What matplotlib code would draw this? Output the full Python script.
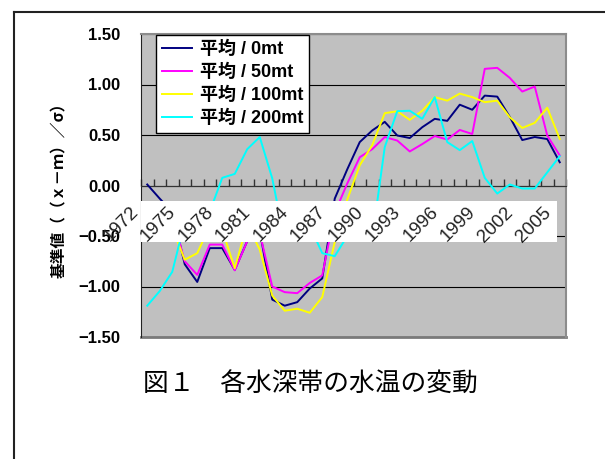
import numpy as np
import matplotlib
matplotlib.use("Agg")
import matplotlib.pyplot as plt
from matplotlib.patches import Rectangle
from matplotlib.lines import Line2D
from matplotlib.font_manager import FontProperties

plt.rcParams['font.family'] = ['Liberation Sans', 'Noto Sans CJK JP']

# standardised water temperature, (x-m)/sigma, by depth
years = list(range(1972, 2006))
avg_0mt = [0.01, -0.13, -0.26, -0.78, -0.955, -0.62, -0.62, -0.835, -0.55, -0.45,
           -1.13, -1.19, -1.155, -1.02, -0.92, -0.13, 0.16, 0.43, 0.545, 0.63,
           0.495, 0.47, 0.577, 0.66, 0.64, 0.80, 0.75, 0.89, 0.88, 0.68,
           0.45, 0.48, 0.46, 0.23]
avg_50mt = [-0.30, -0.35, -0.30, -0.75, -0.885, -0.585, -0.585, -0.84, -0.55, -0.47,
            -1.0, -1.056, -1.066, -0.965, -0.89, -0.27, 0.02, 0.28, 0.36, 0.48,
            0.445, 0.337, 0.41, 0.49, 0.455, 0.55, 0.51, 1.155, 1.165, 1.066,
            0.93, 0.98, 0.495, 0.297]
avg_100mt = [-0.35, -0.40, -0.42, -0.735, -0.67, -0.40, -0.44, -0.82, -0.38, -0.635,
             -1.09, -1.24, -1.22, -1.26, -1.105, -0.56, -0.14, 0.20, 0.40, 0.716,
             0.735, 0.65, 0.74, 0.875, 0.84, 0.91, 0.875, 0.825, 0.84, 0.676,
             0.57, 0.62, 0.77, 0.46]
avg_200mt = [-1.19, -1.045, -0.855, -0.36, -0.30, -0.26, 0.076, 0.115, 0.36, 0.48,
             0.07, -0.55, -0.48, -0.40, -0.67, -0.70, -0.50, -0.50, -0.52, 0.38,
             0.736, 0.74, 0.66, 0.875, 0.43, 0.35, 0.44, 0.076, -0.08, 0.01,
             -0.03, -0.03, 0.13, 0.29]

series = [(avg_0mt, "#000080", "平均 / 0mt"),
          (avg_50mt, "#ff00ff", "平均 / 50mt"),
          (avg_100mt, "#ffff00", "平均 / 100mt"),
          (avg_200mt, "#00ffff", "平均 / 200mt")]

fig = plt.figure(figsize=(6.05, 4.59), dpi=100)
ax = fig.add_axes([141/605, 122/459, 425/605, 303/459])
ax.set_facecolor("#c0c0c0")

x = np.arange(len(years))
lines = []
for vals, col, lab in series:
    p, = ax.plot(x, vals, color=col, lw=1.4, label=lab, zorder=3)
    lines.append(p)

ax.set_xlim(-0.5, len(years) - 0.5)
ax.set_ylim(-1.5, 1.5)

# y axis
yt = [-1.5, -1.0, -0.5, 0.0, 0.5, 1.0, 1.5]
ax.set_yticks(yt)
ax.set_yticklabels([("%.2f" % v).replace("-", "\u2212") for v in yt],
                   fontsize=12, fontweight='bold')
ax.tick_params(axis='y', length=0, pad=15)
ax.yaxis.grid(True, color='black', lw=0.8)
ax.set_axisbelow(True)

# category axis sits on zero, ticks between years
ax.spines['bottom'].set_position(('data', 0))
ax.spines['bottom'].set_color('#333333')
ax.set_xticks(np.arange(-0.5, len(years), 1))
ax.tick_params(axis='x', direction='in', length=5, width=1, colors='#333333',
               labelbottom=False)
for s in ['top', 'right']:
    ax.spines[s].set_color('#8c8c8c')
    ax.spines[s].set_linewidth(1.5)
ax.spines['left'].set_color('#222222')
ax.axhline(-1.5, color='#7a7a7a', lw=2, clip_on=False, zorder=2)

# label strip for the years
ax.add_patch(Rectangle((-0.5, -0.564), 33.26, 0.406, facecolor='white',
                       edgecolor='none', zorder=4))
for i, yr in enumerate(years):
    if (yr - years[0]) % 3 == 0:
        ax.text(i - 0.45, -0.18, str(yr), rotation=45, ha='right', va='top',
                fontsize=13.5, color='#222222', zorder=5, clip_on=False)

leg = ax.legend(lines, [l.get_label() for l in lines], loc='upper left',
                bbox_to_anchor=(0.035, 0.997), borderaxespad=0, fancybox=False,
                edgecolor='black', framealpha=1, handlelength=1.7,
                handletextpad=0.4, labelspacing=0.32, borderpad=0.32,
                prop=FontProperties(family=['Liberation Sans', 'Noto Sans CJK JP'],
                                    weight='bold', size=13))
leg.get_frame().set_linewidth(1.0)
leg.set_zorder(6)

fig.text(59/605, 1 - 186/459, "基準値（（ｘ－ｍ）／σ）", rotation=90, ha='center',
         va='center', fontsize=11.3, fontweight='bold', family=['Noto Sans CJK JP'])
fig.text(310/605, 1 - 385/459, "図１　各水深帯の水温の変動", ha='center',
         va='center', fontsize=18.5, family=['Noto Sans CJK JP'])

# outer border
fig.add_artist(Line2D([13.5/605, 13.5/605], [0, 1 - 12/459], color='#222222', lw=1.5))
fig.add_artist(Line2D([13.5/605, 1], [1 - 12/459, 1 - 12/459], color='#222222', lw=1.5))

fig.savefig("out.png", dpi=100)
